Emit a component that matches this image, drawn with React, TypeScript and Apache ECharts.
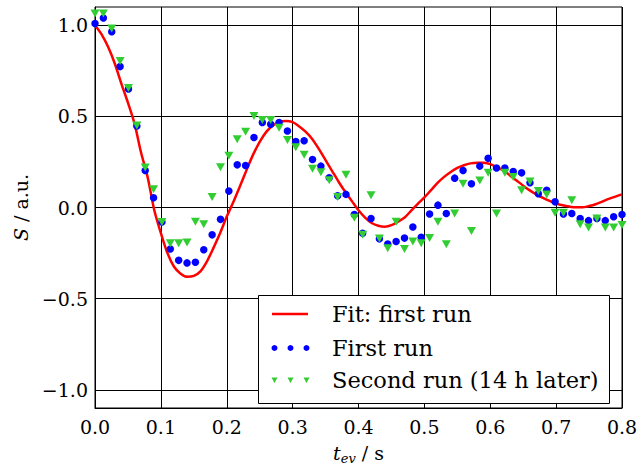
import React, { useEffect, useRef } from "react";
import * as echarts from "echarts";

const tEv = [
  0, 0.0127, 0.0254, 0.0381, 0.0508, 0.0635, 0.0762, 0.0889, 0.1016, 0.1143,
  0.127, 0.1397, 0.1524, 0.1651, 0.1778, 0.1905, 0.2032, 0.2159, 0.2286, 0.2413,
  0.254, 0.2667, 0.2794, 0.2921, 0.3048, 0.3175, 0.3302, 0.3429, 0.3556, 0.3683,
  0.381, 0.3937, 0.4063, 0.419, 0.4317, 0.4444, 0.4571, 0.4698, 0.4825, 0.4952,
  0.5079, 0.5206, 0.5333, 0.546, 0.5587, 0.5714, 0.5841, 0.5968, 0.6095, 0.6222,
  0.6349, 0.6476, 0.6603, 0.673, 0.6857, 0.6984, 0.7111, 0.7238, 0.7365, 0.7492,
  0.7619, 0.7746, 0.7873, 0.8,
];

const firstRun = [
  1.009, 1.04, 0.964, 0.773, 0.65, 0.447, 0.203, 0.053, -0.08, -0.228,
  -0.29, -0.304, -0.3, -0.232, -0.15, -0.065, 0.09, 0.234, 0.23, 0.384,
  0.466, 0.457, 0.466, 0.42, 0.362, 0.366, 0.263, 0.227, 0.163, 0.064,
  0.072, -0.038, -0.141, -0.06, -0.172, -0.2, -0.187, -0.168, -0.107, -0.163,
  -0.036, 0.013, -0.033, 0.161, 0.203, 0.13, 0.227, 0.27, 0.217, 0.217,
  0.197, 0.19, 0.136, 0.076, 0.094, 0.031, -0.036, -0.033, -0.06, -0.072,
  -0.06, -0.072, -0.051, -0.038,
];

const secondRun = [
  1.064, 1.064, 0.982, 0.804, 0.656, 0.45, 0.22, 0.1, -0.08, -0.196,
  -0.196, -0.192, -0.078, -0.092, 0.058, 0.221, 0.284, 0.375, 0.415, 0.502,
  0.48, 0.48, 0.438, 0.371, 0.33, 0.29, 0.212, 0.194, 0.15, 0.058,
  0.179, -0.056, -0.15, 0.067, -0.17, -0.223, -0.078, -0.227, -0.187, -0.196,
  -0.168, -0.078, -0.201, -0.033, 0.13, -0.129, 0.148, 0.19, -0.033, 0.19,
  0.167, 0.094, 0.143, 0.09, 0.072, -0.029, -0.029, 0.04, -0.092, -0.11,
  -0.06, -0.11, -0.11, -0.096,
];

const fitT = [
  0, 0.01, 0.02, 0.03, 0.04, 0.05, 0.06, 0.07, 0.08, 0.09,
  0.1, 0.11, 0.12, 0.13, 0.14, 0.15, 0.16, 0.17, 0.18, 0.19,
  0.2, 0.21, 0.22, 0.23, 0.24, 0.25, 0.26, 0.27, 0.28, 0.29,
  0.3, 0.31, 0.32, 0.33, 0.34, 0.35, 0.36, 0.37, 0.38, 0.39,
  0.4, 0.41, 0.42, 0.43, 0.44, 0.45, 0.46, 0.47, 0.48, 0.49,
  0.5, 0.51, 0.52, 0.53, 0.54, 0.55, 0.56, 0.57, 0.58, 0.59,
  0.6, 0.61, 0.62, 0.63, 0.64, 0.65, 0.66, 0.67, 0.68, 0.69,
  0.7, 0.71, 0.72, 0.73, 0.74, 0.75, 0.76, 0.77, 0.78, 0.79, 0.8,
];

const fitS = [
  1.0, 0.95, 0.88, 0.79, 0.68, 0.575, 0.46, 0.3, 0.165, -0.015,
  -0.14, -0.25, -0.325, -0.363, -0.38, -0.375, -0.35, -0.295, -0.22, -0.14,
  -0.05, 0.03, 0.117, 0.205, 0.29, 0.36, 0.415, 0.45, 0.47, 0.475,
  0.468, 0.445, 0.415, 0.375, 0.32, 0.26, 0.2, 0.14, 0.085, 0.035,
  -0.015, -0.055, -0.085, -0.1, -0.105, -0.097, -0.078, -0.055, -0.017, 0.02,
  0.055, 0.095, 0.135, 0.168, 0.195, 0.217, 0.232, 0.242, 0.246, 0.245,
  0.238, 0.222, 0.203, 0.176, 0.148, 0.12, 0.094, 0.072, 0.053, 0.036,
  0.022, 0.012, 0.005, 0.001, 0.001, 0.008, 0.018, 0.032, 0.047, 0.06, 0.072,
];

const yTickValues = [-1.0, -0.5, 0.0, 0.5, 1.0];
const legendLabels = ["Fit: first run", "First run", "Second run (14 h later)"];

const FONT = "DejaVu Serif";

export default function App() {
  const ref = useRef<HTMLDivElement>(null);

  useEffect(() => {
    const chart = echarts.init(ref.current!, null, { renderer: "svg" });
    const fmt = (v: number) => v.toFixed(1).replace("-", "\u2212");

    const legX = 258;
    const legY = 295;
    const rows = [314, 348, 380];
    const mk = [274.5, 290.5, 306.5];

    const graphics: any[] = [
      {
        type: "rect",
        left: legX,
        top: legY,
        shape: { width: 351, height: 108 },
        style: { fill: "#fff", stroke: "#000", lineWidth: 1 },
        z: 100,
      },
      {
        type: "line",
        shape: { x1: 272, y1: rows[0], x2: 308, y2: rows[0] },
        style: { stroke: "#ff0000", lineWidth: 2.5 },
        z: 101,
      },
      ...mk.map((x) => ({
        type: "circle",
        shape: { cx: x, cy: rows[1], r: 3 },
        style: { fill: "#0000ff" },
        z: 101,
      })),
      ...mk.map((x) => ({
        type: "polygon",
        shape: {
          points: [
            [x - 3, rows[2] - 2.5],
            [x + 3, rows[2] - 2.5],
            [x, rows[2] + 3],
          ],
        },
        style: { fill: "#32cd32" },
        z: 101,
      })),
      ...legendLabels.map((t, i) => ({
        type: "text",
        x: 332,
        y: rows[i],
        style: {
          text: t,
          fontFamily: FONT,
          fontSize: 22.5,
          fill: "#000",
          verticalAlign: "middle",
          align: "left",
        },
        z: 101,
      })),
    ];

    chart.setOption({
      animation: false,
      backgroundColor: "#fff",
      grid: {
        left: 95,
        right: 19,
        top: 7,
        bottom: 59,
        show: true,
        borderColor: "#000",
        borderWidth: 1,
        backgroundColor: "transparent",
      },
      xAxis: {
        type: "value",
        min: 0,
        max: 0.8,
        interval: 0.1,
        name: "{i|t}{s|ev}{n| / s}",
        nameLocation: "middle",
        nameGap: 35,
        nameTextStyle: {
          color: "#000",
          fontFamily: FONT,
          fontSize: 19,
          rich: {
            i: { fontFamily: FONT, fontSize: 19, fontStyle: "italic", color: "#000", verticalAlign: "top", lineHeight: 24 },
            s: { fontFamily: FONT, fontSize: 13, fontStyle: "italic", color: "#000", verticalAlign: "top", lineHeight: 24, padding: [9, 0, 0, 0] },
            n: { fontFamily: FONT, fontSize: 19, color: "#000", verticalAlign: "top", lineHeight: 24 },
          },
        },
        axisLine: { show: true, onZero: false, lineStyle: { color: "#000", width: 1 } },
        axisTick: { show: true, inside: true, length: 6, lineStyle: { color: "#000" } },
        axisLabel: {
          color: "#000",
          fontFamily: FONT,
          fontSize: 19,
          margin: 9,
          formatter: (v: number) => fmt(v),
        },
        splitLine: { show: true, lineStyle: { color: "#000", width: 1 } },
      },
      yAxis: {
        type: "value",
        min: -1.1,
        max: 1.1,
        name: "{i|S}{n| / a.u.}",
        nameLocation: "middle",
        nameGap: 61,
        nameTextStyle: {
          color: "#000",
          fontFamily: FONT,
          fontSize: 19,
          rich: {
            i: { fontFamily: FONT, fontSize: 19, fontStyle: "italic", color: "#000" },
            n: { fontFamily: FONT, fontSize: 19, color: "#000" },
          },
        },
        axisLine: { show: true, onZero: false, lineStyle: { color: "#000", width: 1 } },
        axisTick: { show: true, inside: true, length: 6, customValues: yTickValues, lineStyle: { color: "#000" } },
        axisLabel: {
          color: "#000",
          fontFamily: FONT,
          fontSize: 19,
          margin: 7,
          customValues: yTickValues,
          formatter: (v: number) => fmt(v),
        },
        splitLine: { show: true, lineStyle: { color: "#000", width: 1 } },
      },
      series: [
        {
          name: legendLabels[0],
          type: "line",
          data: fitT.map((t, i) => [t, fitS[i]]),
          showSymbol: false,
          smooth: 0.3,
          lineStyle: { color: "#ff0000", width: 2.5 },
          z: 3,
        },
        {
          name: legendLabels[1],
          type: "scatter",
          data: tEv.map((t, i) => [t, firstRun[i]]),
          symbol: "circle",
          symbolSize: 7.5,
          itemStyle: { color: "#0000ff", opacity: 1 },
          z: 4,
        },
        {
          name: legendLabels[2],
          type: "scatter",
          data: tEv.map((t, i) => [t, secondRun[i]]),
          symbol: "triangle",
          symbolRotate: 180,
          symbolSize: [9, 8],
          itemStyle: { color: "#32cd32", opacity: 1 },
          z: 5,
        },
      ],
      graphic: graphics,
    });

    return () => chart.dispose();
  }, []);

  return (
    <div
      ref={ref}
      style={{ position: "fixed", left: 0, top: 0, width: 641, height: 470, background: "#fff" }}
    />
  );
}
